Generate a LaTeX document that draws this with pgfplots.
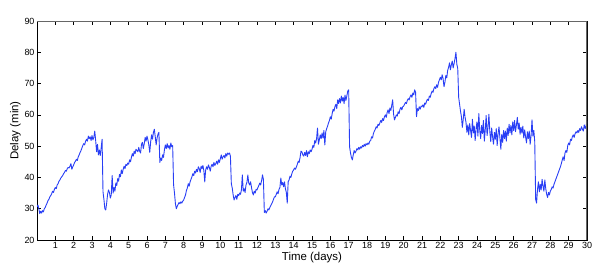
\documentclass[border=0pt]{standalone}
\usepackage{fontspec}
\setmainfont{Liberation Sans}
\usepackage{pgfplots}
\usepackage{pgfplotstable}
\pgfplotsset{compat=1.18}
\definecolor{lineblue}{RGB}{40,62,245}
\pgfplotstableread[row sep=\\]{
y\\
30.6\\ 31.2\\ 30.0\\ 28.4\\ 29.2\\ 28.6\\ 29.4\\ 29.0\\ 30.0\\ 30.4\\ 31.2\\ 31.8\\ 32.6\\ 33.0\\ 33.8\\ 34.2\\ 34.8\\ 35.6\\ 35.2\\ 36.2\\
36.8\\ 36.4\\ 37.6\\ 38.0\\ 38.8\\ 39.2\\ 39.8\\ 40.2\\ 40.6\\ 41.2\\ 41.6\\ 42.2\\ 42.0\\ 42.8\\ 43.2\\ 43.0\\ 43.6\\ 44.4\\ 42.6\\ 43.4\\
44.0\\ 44.8\\ 45.2\\ 45.8\\ 45.4\\ 46.6\\ 47.2\\ 48.0\\ 48.6\\ 49.4\\ 50.2\\ 50.8\\ 50.4\\ 51.6\\ 52.2\\ 51.6\\ 53.2\\ 52.4\\ 53.0\\ 51.8\\
53.4\\ 52.0\\ 52.8\\ 54.8\\ 51.8\\ 48.2\\ 50.6\\ 47.2\\ 48.8\\ 47.0\\ 49.4\\ 52.2\\ 35.4\\ 33.0\\ 30.0\\ 29.6\\ 31.8\\ 34.6\\ 36.0\\ 35.2\\
33.4\\ 34.4\\ 40.6\\ 35.0\\ 36.8\\ 35.6\\ 38.2\\ 37.4\\ 39.6\\ 38.8\\ 41.0\\ 40.2\\ 42.4\\ 41.2\\ 42.6\\ 43.6\\ 42.8\\ 44.2\\ 43.8\\ 44.6\\
44.2\\ 45.6\\ 45.0\\ 46.4\\ 47.6\\ 46.8\\ 48.4\\ 47.6\\ 49.0\\ 48.6\\ 48.2\\ 49.6\\ 48.4\\ 47.8\\ 50.6\\ 51.2\\ 49.2\\ 50.8\\ 52.8\\ 51.6\\
53.2\\ 52.0\\ 50.4\\ 48.0\\ 51.4\\ 53.6\\ 52.2\\ 54.4\\ 55.4\\ 53.0\\ 50.4\\ 52.6\\ 53.8\\ 54.4\\ 44.8\\ 46.2\\ 45.4\\ 47.2\\ 46.4\\ 48.8\\
50.4\\ 49.2\\ 50.8\\ 49.4\\ 50.2\\ 49.0\\ 51.0\\ 49.8\\ 50.2\\ 37.6\\ 35.0\\ 31.6\\ 30.0\\ 30.8\\ 31.4\\ 32.0\\ 31.6\\ 32.2\\ 31.8\\ 32.4\\
32.8\\ 33.6\\ 34.4\\ 35.8\\ 36.6\\ 38.0\\ 37.2\\ 38.6\\ 39.4\\ 40.2\\ 41.2\\ 40.6\\ 42.0\\ 41.4\\ 42.6\\ 41.8\\ 43.4\\ 42.8\\ 41.6\\ 43.6\\
42.8\\ 43.8\\ 42.2\\ 38.6\\ 42.4\\ 43.4\\ 42.6\\ 44.0\\ 43.2\\ 42.0\\ 43.6\\ 44.2\\ 43.4\\ 44.8\\ 43.8\\ 44.4\\ 45.2\\ 44.2\\ 45.6\\ 44.8\\
46.0\\ 47.2\\ 45.8\\ 46.6\\ 47.0\\ 46.2\\ 47.6\\ 46.8\\ 47.8\\ 47.4\\ 47.8\\ 46.8\\ 38.0\\ 36.6\\ 34.4\\ 32.8\\ 33.6\\ 34.2\\ 33.0\\ 34.6\\
34.2\\ 35.0\\ 34.6\\ 36.0\\ 40.8\\ 35.6\\ 36.4\\ 35.2\\ 37.6\\ 38.4\\ 40.8\\ 38.2\\ 37.6\\ 38.6\\ 36.8\\ 35.2\\ 34.4\\ 35.6\\ 35.0\\ 36.2\\
36.0\\ 36.8\\ 37.4\\ 38.2\\ 37.6\\ 39.0\\ 40.8\\ 39.4\\ 28.8\\ 29.4\\ 28.6\\ 29.2\\ 30.0\\ 29.6\\ 30.4\\ 31.0\\ 31.6\\ 32.2\\ 33.0\\ 33.8\\
33.8\\ 34.6\\ 35.4\\ 34.8\\ 36.2\\ 36.8\\ 39.8\\ 37.6\\ 38.4\\ 37.0\\ 38.6\\ 36.4\\ 35.2\\ 31.8\\ 38.6\\ 39.2\\ 40.4\\ 40.0\\ 41.2\\ 42.0\\
42.4\\ 43.0\\ 42.6\\ 43.4\\ 44.2\\ 45.2\\ 44.8\\ 46.4\\ 48.4\\ 48.2\\ 47.2\\ 46.8\\ 48.0\\ 47.0\\ 48.6\\ 46.6\\ 48.2\\ 47.6\\ 48.8\\ 48.2\\
49.0\\ 50.2\\ 49.6\\ 51.8\\ 51.0\\ 52.4\\ 55.8\\ 50.6\\ 52.0\\ 53.6\\ 52.4\\ 54.2\\ 52.6\\ 55.0\\ 50.4\\ 54.6\\ 55.6\\ 56.4\\ 57.4\\ 58.2\\
59.4\\ 58.6\\ 60.4\\ 61.8\\ 61.2\\ 62.6\\ 63.4\\ 62.0\\ 64.8\\ 63.6\\ 65.2\\ 63.8\\ 66.0\\ 64.4\\ 65.6\\ 63.6\\ 66.3\\ 64.6\\ 66.0\\ 67.6\\
68.0\\ 49.8\\ 47.8\\ 46.4\\ 45.6\\ 47.2\\ 48.6\\ 47.8\\ 48.4\\ 49.2\\ 48.8\\ 49.6\\ 49.0\\ 49.8\\ 49.4\\ 50.2\\ 49.8\\ 50.6\\ 50.0\\ 50.8\\
50.4\\ 51.0\\ 50.6\\ 51.6\\ 51.8\\ 53.0\\ 52.6\\ 54.0\\ 54.8\\ 55.4\\ 56.2\\ 55.8\\ 57.0\\ 56.6\\ 57.4\\ 58.2\\ 57.6\\ 58.8\\ 58.2\\ 59.4\\
60.0\\ 59.2\\ 60.8\\ 61.6\\ 60.4\\ 62.2\\ 61.4\\ 63.0\\ 64.8\\ 60.2\\ 58.4\\ 59.2\\ 60.0\\ 59.6\\ 61.0\\ 60.4\\ 61.8\\ 62.4\\ 61.6\\ 62.6\\
62.8\\ 63.4\\ 64.0\\ 63.6\\ 64.6\\ 65.2\\ 64.8\\ 65.8\\ 66.4\\ 65.6\\ 67.0\\ 66.4\\ 68.0\\ 67.2\\ 59.4\\ 62.0\\ 61.4\\ 62.6\\ 61.8\\ 62.8\\
62.6\\ 63.2\\ 62.4\\ 63.8\\ 63.4\\ 64.4\\ 65.0\\ 64.6\\ 66.0\\ 65.6\\ 66.8\\ 67.6\\ 67.2\\ 68.4\\ 69.0\\ 68.4\\ 69.6\\ 68.8\\ 70.4\\ 71.2\\
72.0\\ 71.2\\ 72.8\\ 71.6\\ 69.0\\ 70.4\\ 72.6\\ 71.8\\ 74.2\\ 75.2\\ 76.6\\ 74.4\\ 76.0\\ 77.2\\ 75.0\\ 76.4\\ 78.0\\ 80.0\\ 76.2\\ 74.8\\
65.6\\ 63.4\\ 61.2\\ 59.4\\ 56.0\\ 58.6\\ 61.8\\ 59.2\\ 57.6\\ 54.4\\ 56.8\\ 53.6\\ 57.2\\ 55.0\\ 52.8\\ 58.6\\ 54.2\\ 56.4\\ 51.8\\ 55.6\\
57.8\\ 53.2\\ 60.4\\ 55.0\\ 52.4\\ 56.6\\ 54.0\\ 58.2\\ 51.6\\ 55.2\\ 59.8\\ 53.4\\ 56.0\\ 60.2\\ 54.6\\ 51.4\\ 55.8\\ 53.0\\ 50.6\\ 54.4\\
52.2\\ 55.6\\ 50.2\\ 54.0\\ 56.2\\ 52.6\\ 49.0\\ 53.8\\ 51.2\\ 55.0\\ 52.4\\ 54.8\\ 51.6\\ 55.8\\ 53.4\\ 57.0\\ 54.2\\ 56.6\\ 53.6\\ 57.8\\
55.0\\ 58.2\\ 54.6\\ 56.8\\ 59.2\\ 55.4\\ 57.4\\ 53.8\\ 56.0\\ 54.2\\ 56.4\\ 52.6\\ 55.2\\ 53.0\\ 51.0\\ 54.6\\ 52.4\\ 54.8\\ 50.6\\ 53.4\\
58.4\\ 53.2\\ 55.0\\ 51.4\\ 33.0\\ 31.8\\ 36.2\\ 38.6\\ 35.4\\ 37.8\\ 36.0\\ 39.4\\ 37.2\\ 35.6\\ 39.2\\ 36.4\\ 34.6\\ 33.6\\ 35.2\\ 34.4\\
35.6\\ 36.2\\ 37.0\\ 36.6\\ 37.8\\ 38.6\\ 39.4\\ 40.2\\ 41.0\\ 41.8\\ 42.6\\ 43.4\\ 44.4\\ 45.6\\ 46.6\\ 45.4\\ 47.8\\ 48.6\\ 48.0\\ 50.2\\
51.0\\ 50.4\\ 52.2\\ 51.8\\ 53.0\\ 53.6\\ 52.8\\ 54.0\\ 54.6\\ 54.2\\ 55.0\\ 54.4\\ 55.6\\ 55.0\\ 56.2\\ 55.4\\ 54.8\\ 56.8\\ 55.6\\ 56.4\\
58.0\\
}\delaydata
\begin{document}
\begin{tikzpicture}
\useasboundingbox (0,0) rectangle (599bp,280bp);
\begin{axis}[
  at={(37bp,40bp)}, anchor=south west,
  scale only axis, width=550bp, height=219bp,
  xmin=0, xmax=30, ymin=20, ymax=90,
  xtick={1,...,30}, ytick={20,30,...,90},
  tick align=inside, major tick length=4bp,
  /pgf/number format/assume math mode=true,
  ticklabel style={font=\fontsize{9}{10}\selectfont},
  xticklabel style={yshift=1bp},
  yticklabel style={xshift=1bp},
  xlabel={Time (days)}, ylabel={Delay (min)},
  label style={font=\fontsize{11.5}{12}\selectfont},
  xlabel style={yshift=4bp},
  ylabel style={yshift=-3bp},
  axis line style={black, line width=0.7pt},
  tick style={black, line width=0.5pt},
]
\addplot[lineblue, line width=0.9pt, line join=round] table[x expr=\coordindex*0.05, y=y]{\delaydata};
\draw[black!60, line width=1.4pt] (rel axis cs:0,1) -- (rel axis cs:1,1) -- (rel axis cs:1,0);
\end{axis}
\end{tikzpicture}
\end{document}
